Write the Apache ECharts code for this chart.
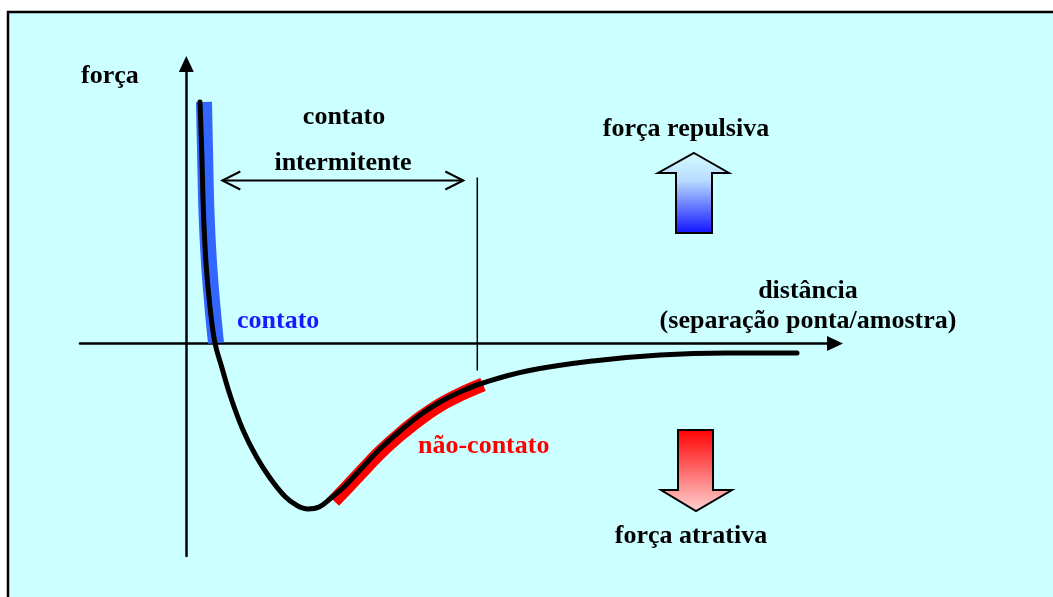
<!DOCTYPE html>
<html>
<head>
<meta charset="utf-8">
<script src="https://cdn.jsdelivr.net/npm/echarts@6/dist/echarts.min.js"></script>
<style>
  html, body { margin: 0; padding: 0; background: #fff; }
  #main { width: 1053px; height: 597px; }
</style>
</head>
<body>
<div id="main"></div>
<script>
// curva força x distância (unidades arbitrárias)
const curveX = [0.137, 0.154, 0.172, 0.197, 0.237, 0.287, 0.357, 0.447, 0.567, 0.697, 0.837, 0.987, 1.107, 1.217, 1.327, 1.447, 1.587, 1.737, 1.937, 2.137, 2.337, 2.537, 2.737, 2.967, 3.407, 4.067, 4.737, 5.407, 6.107];
const curveY = [2.415, 1.935, 1.305, 0.805, 0.365, 0.005, -0.245, -0.545, -0.865, -1.125, -1.345, -1.53, -1.62, -1.655, -1.635, -1.545, -1.425, -1.265, -1.055, -0.875, -0.715, -0.585, -0.485, -0.395, -0.275, -0.175, -0.115, -0.095, -0.095];
// faixa "contato" (azul)
const contactX = [0.177, 0.187, 0.202, 0.227, 0.262, 0.297];
const contactY = [2.415, 1.935, 1.305, 0.805, 0.365, 0.005];
// faixa "não-contato" (vermelho)
const noncontactX = [1.477, 1.587, 1.737, 1.937, 2.137, 2.337, 2.537, 2.737, 2.967];
const noncontactY = [-1.575, -1.46, -1.3, -1.09, -0.91, -0.75, -0.615, -0.51, -0.41];
// contato intermitente
const interStart = 0.36;
const interEnd = 2.77;
const interArrowY = 1.63;
const interLineX = 2.91;
const interLineY = [1.66, -0.27];

const zip = (xs, ys) => xs.map((x, i) => [x, ys[i]]);
const FONT = "bold 26px 'Liberation Serif', 'Times New Roman', serif";

function txt(text, x, y, color, align) {
  return {
    type: "text",
    z: 50,
    style: {
      text: text,
      x: x,
      y: y,
      font: FONT,
      fill: color || "#000",
      align: align || "center",
      textAlign: align || "center",
      verticalAlign: "middle",
      textVerticalAlign: "middle",
    },
  };
}

var myChart = echarts.init(document.getElementById("main"));
var option = {
  animation: false,
  backgroundColor: "#fff",
  grid: { left: 80, right: 218, top: 64, bottom: 41 },
  xAxis: {
    type: "value",
    min: -1.063,
    max: 6.487,
    axisLine: {
      onZero: true,
      symbol: ["none", "triangle"],
      symbolSize: [15, 16],
      lineStyle: { color: "#000", width: 2.5 },
    },
    axisTick: { show: false },
    axisLabel: { show: false },
    splitLine: { show: false },
  },
  yAxis: {
    type: "value",
    min: -2.125,
    max: 2.795,
    axisLine: {
      onZero: true,
      symbol: ["none", "triangle"],
      symbolSize: [15, 16],
      lineStyle: { color: "#000", width: 2.5 },
    },
    axisTick: { show: false },
    axisLabel: { show: false },
    splitLine: { show: false },
  },
  series: [
    {
      type: "line",
      data: zip(contactX, contactY),
      showSymbol: false,
      smooth: 0.4,
      lineStyle: { color: "#3366ff", width: 16, cap: "butt" },
      z: 3,
    },
    {
      type: "line",
      data: zip(noncontactX, noncontactY),
      showSymbol: false,
      smooth: 0.4,
      lineStyle: { color: "#ff0000", width: 14, cap: "butt" },
      z: 3,
    },
    {
      type: "line",
      data: zip(curveX, curveY),
      showSymbol: false,
      smooth: 0.4,
      lineStyle: { color: "#000", width: 5, cap: "round", join: "round" },
      z: 4,
    },
    {
      type: "line",
      data: [[interStart, interArrowY], [interEnd, interArrowY]],
      showSymbol: false,
      lineStyle: { color: "#000", width: 2 },
      z: 4,
    },
    {
      type: "line",
      data: [[interLineX, interLineY[0]], [interLineX, interLineY[1]]],
      showSymbol: false,
      lineStyle: { color: "#000", width: 1.5 },
      z: 4,
    },
  ],
};
myChart.setOption(option);

const pL = myChart.convertToPixel({ gridIndex: 0 }, [interStart, interArrowY]);
const pR = myChart.convertToPixel({ gridIndex: 0 }, [interEnd, interArrowY]);

myChart.setOption({
  graphic: [
    {
      type: "rect",
      z: -10,
      shape: { x: 8, y: 12, width: 1100, height: 700 },
      style: { fill: "#ccffff", stroke: "#000", lineWidth: 2.5 },
    },
    {
      type: "polyline",
      z: 50,
      shape: { points: [[pL[0] + 18, pL[1] - 9], pL, [pL[0] + 18, pL[1] + 9]] },
      style: { stroke: "#000", lineWidth: 2, fill: null },
    },
    {
      type: "polyline",
      z: 50,
      shape: { points: [[pR[0] - 18, pR[1] - 9], pR, [pR[0] - 18, pR[1] + 9]] },
      style: { stroke: "#000", lineWidth: 2, fill: null },
    },
    // seta força repulsiva
    {
      type: "polygon",
      z: 50,
      shape: {
        points: [[694, 153], [729, 173], [712, 173], [712, 233], [676, 233], [676, 173], [658, 173]],
      },
      style: {
        stroke: "#000",
        lineWidth: 2,
        fill: {
          type: "linear", x: 0, y: 0, x2: 0, y2: 1,
          colorStops: [
            { offset: 0, color: "#d6fbff" },
            { offset: 0.35, color: "#b8dcff" },
            { offset: 1, color: "#1010ff" },
          ],
        },
      },
    },
    // seta força atrativa
    {
      type: "polygon",
      z: 50,
      shape: {
        points: [[678, 430], [713, 430], [713, 490], [732, 490], [696, 511], [661, 490], [678, 490]],
      },
      style: {
        stroke: "#000",
        lineWidth: 2,
        fill: {
          type: "linear", x: 0, y: 0, x2: 0, y2: 1,
          colorStops: [
            { offset: 0, color: "#ff0000" },
            { offset: 1, color: "#ffd4d4" },
          ],
        },
      },
    },
    txt("força", 81, 76, "#000", "left"),
    txt("contato", 344, 117),
    txt("intermitente", 343, 163),
    txt("força repulsiva", 686, 129),
    txt("força atrativa", 691, 536),
    txt("distância", 808, 291),
    txt("(separação ponta/amostra)", 808, 321),
    txt("contato", 237, 321, "#1a1aff", "left"),
    txt("não-contato", 418, 446, "#ff0000", "left"),
  ],
});
</script>
</body>
</html>
